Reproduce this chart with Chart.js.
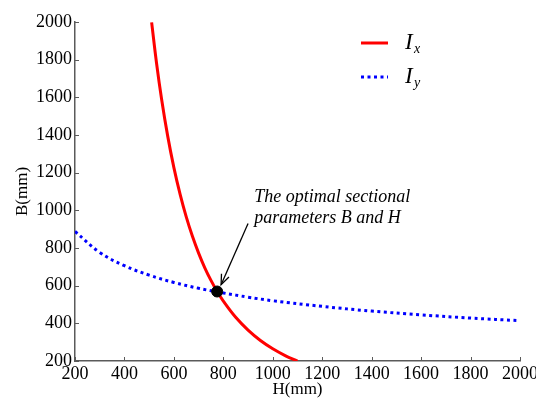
<!DOCTYPE html>
<html>
<head>
<meta charset="utf-8">
<script src="https://cdn.jsdelivr.net/npm/chart.js@4"></script>
<style>
  html,body{margin:0;padding:0;background:#fff;}
  #wrap{width:536px;height:401px;position:relative;}
</style>
</head>
<body>
<div id="wrap"><canvas id="grafica"></canvas></div>
<script>
// H (mm) and B (mm)
var hIx=[510,530,550,575,600,625,650,675,700,725,750,775,800,850,900,950,1000,1050,1100];
var bIx=[1998,1780,1593,1394,1227,1086,965,862,773,695,628,569,518,432,364,309,265,229,200];
var hIy=[200,300,400,500,600,700,775,800,900,1000,1200,1400,1600,1800,2000];
var bIy=[888,777,706,656,617,586,567,561,539,520,490,465,445,428,414];
var optimo={h:775,b:569};
var xTicks=[200,400,600,800,1000,1200,1400,1600,1800,2000];
var yTicks=[200,400,600,800,1000,1200,1400,1600,1800,2000];
var notaTexto=["The optimal sectional","parameters B and H"];
var nombres=[["I","x"],["I","y"]];

function pares(xs,ys){
  return xs.map(function(x,i){return {x:x,y:ys[i]};});
}

var serif="'Liberation Serif', 'Times New Roman', serif";
var ejeColor="#5a5a5a";

var marcas={
  id:"marcas",
  afterDraw:function(chart){
    var ctx=chart.ctx, a=chart.chartArea, sx=chart.scales.x, sy=chart.scales.y;
    ctx.save();
    // inward ticks
    ctx.strokeStyle=ejeColor; ctx.lineWidth=1;
    xTicks.forEach(function(v){
      var px=Math.round(sx.getPixelForValue(v))+0.5;
      ctx.beginPath(); ctx.moveTo(px,a.bottom); ctx.lineTo(px,a.bottom-4); ctx.stroke();
    });
    yTicks.forEach(function(v){
      var py=Math.round(sy.getPixelForValue(v))+0.5;
      ctx.beginPath(); ctx.moveTo(a.left,py); ctx.lineTo(a.left+4,py); ctx.stroke();
    });
    // annotation
    ctx.fillStyle="#000";
    ctx.font="italic 18px "+serif;
    ctx.textBaseline="middle";
    ctx.fillText(notaTexto[0],sx.getPixelForValue(925),sy.getPixelForValue(1068));
    ctx.fillText(notaTexto[1],sx.getPixelForValue(925),sy.getPixelForValue(956));
    var x0=sx.getPixelForValue(900), y0=sy.getPixelForValue(930);
    var x1=sx.getPixelForValue(791), y1=sy.getPixelForValue(605);
    ctx.strokeStyle="#000"; ctx.lineWidth=1.3;
    ctx.beginPath(); ctx.moveTo(x0,y0); ctx.lineTo(x1,y1); ctx.stroke();
    var ang=Math.atan2(y1-y0,x1-x0), L=11, w=0.38;
    ctx.beginPath();
    ctx.moveTo(x1-L*Math.cos(ang-w),y1-L*Math.sin(ang-w));
    ctx.lineTo(x1,y1);
    ctx.lineTo(x1-L*Math.cos(ang+w),y1-L*Math.sin(ang+w));
    ctx.stroke();
    // legend
    var ds=chart.data.datasets;
    [0,1].forEach(function(i){
      var y=a.top+21+i*34, lx=a.right-159;
      ctx.strokeStyle=ds[i].borderColor; ctx.lineWidth=3;
      ctx.setLineDash(ds[i].borderDash||[]);
      ctx.beginPath(); ctx.moveTo(lx,y); ctx.lineTo(lx+27,y); ctx.stroke();
      ctx.setLineDash([]);
      ctx.fillStyle="#000";
      ctx.font="italic 23px "+serif;
      ctx.fillText(nombres[i][0],a.right-115,y);
      ctx.font="italic 14px "+serif;
      ctx.fillText(nombres[i][1],a.right-106,y+6);
    });
    ctx.restore();
  }
};

var contexto=document.getElementById("grafica");
var grafica=new Chart(contexto,{
  type:"scatter",
  data:{
    datasets:[{
      label:"Ix",
      data:pares(hIx,bIx),
      showLine:true,
      borderColor:"rgb(255,0,0)",
      borderWidth:3,
      pointRadius:0,
      tension:0.4,
      order:1
    },{
      label:"Iy",
      data:pares(hIy,bIy),
      showLine:true,
      borderColor:"rgb(0,0,255)",
      borderWidth:3,
      borderDash:[3,3.5],
      pointRadius:0,
      tension:0.4,
      order:2
    },{
      label:"optimo",
      data:[{x:optimo.h,y:optimo.b}],
      pointRadius:5.5,
      pointBackgroundColor:"#000",
      pointBorderColor:"#000",
      showLine:false,
      order:0
    }]
  },
  options:{
    responsive:true,
    maintainAspectRatio:false,
    animation:false,
    layout:{padding:{top:22,right:16,left:0,bottom:0}},
    plugins:{legend:{display:false},tooltip:{enabled:false}},
    scales:{
      x:{
        type:"linear",min:200,max:2000,
        afterBuildTicks:function(s){s.ticks=xTicks.map(function(v){return {value:v};});},
        afterFit:function(s){s.height=40;s.paddingLeft=0;s.paddingRight=0;},
        grid:{display:false,drawTicks:false},
        border:{display:true,color:ejeColor,width:1.5},
        ticks:{color:"#000",padding:2,maxRotation:0,autoSkip:false,
          callback:function(v){return String(v);},
          font:{family:serif,size:18}},
        title:{display:true,text:"H(mm)",color:"#000",padding:{top:0,bottom:1},font:{family:serif,size:17}}
      },
      y:{
        type:"linear",min:200,max:2000,
        afterBuildTicks:function(s){s.ticks=yTicks.map(function(v){return {value:v};});},
        afterFit:function(s){s.width=75;s.paddingTop=0;s.paddingBottom=0;},
        grid:{display:false,drawTicks:false},
        border:{display:true,color:ejeColor,width:1.5},
        ticks:{color:"#000",padding:3,autoSkip:false,
          callback:function(v){return String(v);},
          font:{family:serif,size:18}},
        title:{display:true,text:"B(mm)",color:"#000",padding:{top:12,bottom:0},font:{family:serif,size:17}}
      }
    }
  },
  plugins:[marcas]
});
</script>
</body>
</html>
